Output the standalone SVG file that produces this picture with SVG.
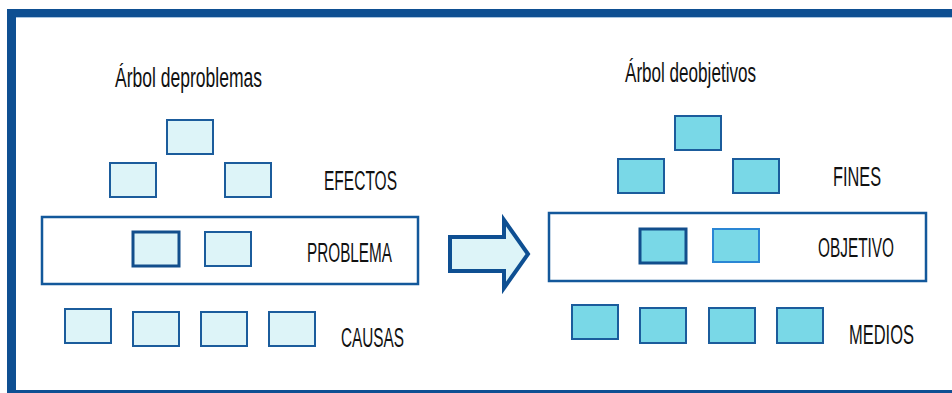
<svg xmlns="http://www.w3.org/2000/svg" width="952" height="393" viewBox="0 0 952 393">
  <style>
    .frame { fill: none; stroke: #0E4F92; }
    .band { fill: none; stroke: #13589B; stroke-width: 2.5; }
    .box { stroke: #1B5C9C; stroke-width: 2; }
    .box.strong { stroke: #124E8C; stroke-width: 3; }
    .box.soft { stroke: #2A86D4; stroke-width: 2; }
    .lt { fill: #DDF4F8; }
    .dk { fill: #79D8E7; }
    .lbl { font-family: "Liberation Sans", Arial, sans-serif; font-size: 27px; fill: #111111; }
  </style>

  <!-- outer border: heavy top and left edges, thin bottom edge -->
  <g id="border">
    <rect x="7" y="9" width="945" height="8" fill="#0E4F92"/>
    <line x1="7" y1="17.5" x2="952" y2="17.5" stroke="#A9C4E0" stroke-width="1"/>
    <rect x="7" y="9" width="9" height="384" fill="#0E4F92"/>
    <rect x="7" y="390" width="945" height="3" fill="#0E4F92"/>
  </g>

  <!-- problem tree -->
  <g id="problem-tree">
    <text class="lbl" x="115" y="87" textLength="147" lengthAdjust="spacingAndGlyphs">Árbol deproblemas</text>
    <g id="efectos">
      <rect class="box lt" x="167" y="120" width="46" height="34"/>
      <rect class="box lt" x="110" y="163" width="46" height="34"/>
      <rect class="box lt" x="225" y="163" width="46" height="34"/>
      <text class="lbl" x="324" y="190" textLength="73" lengthAdjust="spacingAndGlyphs">EFECTOS</text>
    </g>
    <g id="problema">
      <rect class="band" x="42" y="217" width="376" height="67"/>
      <rect class="box strong lt" x="133" y="232" width="46" height="34"/>
      <rect class="box lt" x="205" y="232" width="46" height="34"/>
      <text class="lbl" x="307" y="262" textLength="85" lengthAdjust="spacingAndGlyphs">PROBLEMA</text>
    </g>
    <g id="causas">
      <rect class="box lt" x="65" y="309" width="46" height="34"/>
      <rect class="box lt" x="133" y="312" width="46" height="34"/>
      <rect class="box lt" x="201" y="312" width="46" height="34"/>
      <rect class="box lt" x="269" y="312" width="46" height="34"/>
      <text class="lbl" x="341" y="347" textLength="63" lengthAdjust="spacingAndGlyphs">CAUSAS</text>
    </g>
  </g>

  <!-- transformation arrow -->
  <g id="connectors">
    <path d="M450,237 H504 V220 L528,254 L504,288 V271 H450 Z" fill="#DDF4F8" stroke="#0E4F92" stroke-width="4" stroke-linejoin="miter"/>
  </g>

  <!-- objective tree -->
  <g id="objective-tree">
    <text class="lbl" x="625" y="82" font-size="26" textLength="131" lengthAdjust="spacingAndGlyphs">Árbol deobjetivos</text>
    <g id="fines">
      <rect class="box dk" x="675" y="116" width="46" height="34"/>
      <rect class="box dk" x="618" y="159" width="46" height="34"/>
      <rect class="box dk" x="733" y="159" width="46" height="34"/>
      <text class="lbl" x="833" y="186" textLength="48" lengthAdjust="spacingAndGlyphs">FINES</text>
    </g>
    <g id="objetivo">
      <rect class="band" x="549" y="213" width="377" height="68"/>
      <rect class="box strong dk" x="640" y="229" width="46" height="34"/>
      <rect class="box soft dk" x="713" y="229" width="46" height="33"/>
      <text class="lbl" x="818" y="257" textLength="76" lengthAdjust="spacingAndGlyphs">OBJETIVO</text>
    </g>
    <g id="medios">
      <rect class="box dk" x="572" y="305" width="46" height="34"/>
      <rect class="box dk" x="640" y="308" width="46" height="35"/>
      <rect class="box dk" x="709" y="308" width="46" height="35"/>
      <rect class="box dk" x="777" y="308" width="46" height="35"/>
      <text class="lbl" transform="translate(849 344) scale(0.61 1)" x="0" y="0" textLength="106.5" lengthAdjust="spacingAndGlyphs">MEDIOS</text>
    </g>
  </g>
</svg>
